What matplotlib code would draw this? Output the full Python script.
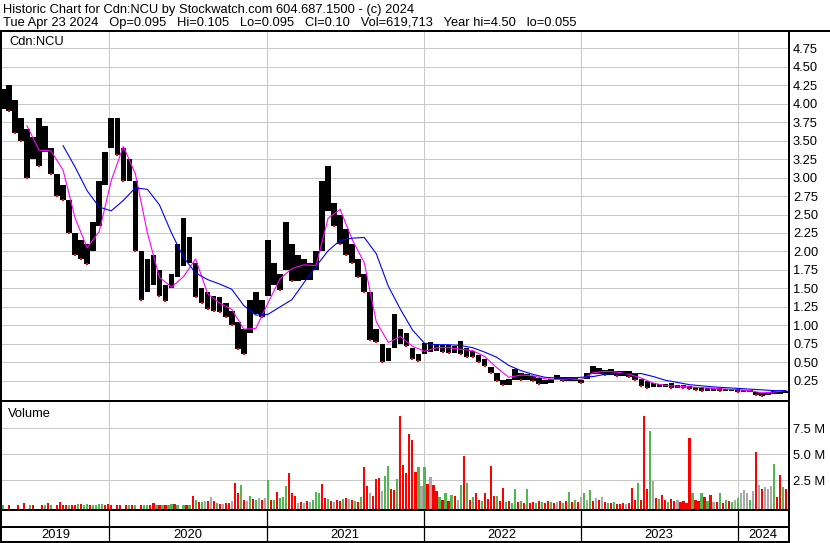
import numpy as np
import pandas as pd
import matplotlib
matplotlib.use("Agg")
import matplotlib.pyplot as plt
from matplotlib.lines import Line2D

plt.rcParams['font.family'] = ['Liberation Sans', 'DejaVu Sans']

# price range per two-week block, first block starts 2019-04-29
bar_start = "2019-04-29"
price_high = [4.20, 4.25, 4.05, 3.80, 3.65, 3.55, 3.80, 3.70, 3.40, 3.05,
              2.90, 2.70, 2.25, 2.15, 2.10, 2.40, 2.95, 3.35, 3.80, 3.80,
              3.40, 3.25, 2.95, 2.00, 1.90, 1.95, 1.75, 1.55, 1.70, 2.10,
              2.45, 2.20, 1.85, 1.50, 1.45, 1.40, 1.38, 1.30, 1.20, 1.05,
              0.95, 1.35, 1.45, 1.35, 2.15, 1.85, 1.70, 2.40, 2.10, 1.95,
              1.90, 1.85, 2.00, 2.95, 3.15, 2.65, 2.50, 2.30, 2.10, 1.90,
              1.70, 1.45, 0.95, 0.75, 0.70, 1.15, 0.95, 0.90, 0.70, 0.62,
              0.76, 0.78, 0.75, 0.74, 0.74, 0.72, 0.79, 0.70, 0.66, 0.60,
              0.55, 0.44, 0.36, 0.26, 0.28, 0.41, 0.36, 0.35, 0.32, 0.29,
              0.27, 0.28, 0.33, 0.31, 0.30, 0.31, 0.27, 0.36, 0.45, 0.42,
              0.40, 0.41, 0.39, 0.38, 0.38, 0.34, 0.28, 0.25, 0.22, 0.21,
              0.21, 0.22, 0.20, 0.19, 0.18, 0.17, 0.17, 0.16, 0.16, 0.15,
              0.14, 0.14, 0.14, 0.13, 0.13, 0.10, 0.09, 0.10, 0.12, 0.12,
              0.12]
price_low = [3.92, 3.90, 3.60, 3.50, 3.00, 3.25, 3.15, 3.35, 3.05, 2.75,
             2.70, 2.25, 1.95, 1.90, 1.83, 2.00, 2.35, 2.90, 3.40, 3.30,
             2.95, 2.95, 2.00, 1.35, 1.45, 1.55, 1.40, 1.33, 1.50, 1.65,
             1.80, 1.85, 1.38, 1.30, 1.22, 1.20, 1.18, 1.12, 1.00, 0.68,
             0.62, 0.90, 1.15, 1.12, 1.40, 1.55, 1.48, 1.75, 1.60, 1.60,
             1.62, 1.62, 1.75, 2.00, 2.55, 2.35, 2.10, 1.95, 1.85, 1.65,
             1.45, 0.80, 0.78, 0.50, 0.52, 0.70, 0.75, 0.72, 0.55, 0.52,
             0.62, 0.64, 0.65, 0.64, 0.63, 0.63, 0.62, 0.58, 0.57, 0.50,
             0.45, 0.36, 0.25, 0.20, 0.20, 0.27, 0.26, 0.26, 0.25, 0.21,
             0.21, 0.22, 0.26, 0.25, 0.25, 0.25, 0.22, 0.28, 0.34, 0.34,
             0.33, 0.33, 0.32, 0.32, 0.31, 0.27, 0.18, 0.16, 0.17, 0.17,
             0.17, 0.16, 0.16, 0.15, 0.14, 0.13, 0.12, 0.12, 0.12, 0.11,
             0.11, 0.11, 0.10, 0.10, 0.10, 0.06, 0.05, 0.055, 0.08, 0.08,
             0.09]

# moving averages, one value every 4 weeks
ma_short = [3.70, 3.37, 3.36, 3.10, 2.45, 2.05, 2.27, 2.96, 3.42, 3.05,
            2.25, 1.65, 1.52, 1.66, 1.90, 1.43, 1.30, 1.22, 0.95, 0.96,
            1.30, 1.63, 1.77, 1.82, 1.81, 2.45, 2.57, 2.16, 1.85, 1.05,
            0.77, 0.85, 0.72, 0.65, 0.70, 0.70, 0.68, 0.66, 0.58, 0.43,
            0.30, 0.33, 0.32, 0.28, 0.27, 0.28, 0.27, 0.36, 0.38, 0.37,
            0.34, 0.29, 0.22, 0.19, 0.18, 0.17, 0.16, 0.15, 0.14, 0.13,
            0.12, 0.09, 0.10, 0.12]
ma_long = [3.43, 3.14, 2.82, 2.60, 2.55, 2.69, 2.86, 2.84, 2.63, 2.25,
           1.92, 1.71, 1.62, 1.56, 1.49, 1.27, 1.14, 1.15, 1.25, 1.35,
           1.58, 1.80, 2.01, 2.15, 2.18, 2.19, 1.97, 1.53, 1.22, 0.94,
           0.76, 0.74, 0.74, 0.73, 0.70, 0.64, 0.57, 0.46, 0.39, 0.34,
           0.30, 0.29, 0.29, 0.30, 0.31, 0.34, 0.35, 0.35, 0.35, 0.31,
           0.26, 0.23, 0.20, 0.185, 0.17, 0.16, 0.15, 0.14, 0.13, 0.12,
           0.12]

# weekly volume (millions) and direction: r = down, g = up, n = unchanged
vol_start = "2019-04-29"
vol_2019 = [0.05, 0.0, 0.05, 0.0, 0.0, 0.10, 0.0, 0.30, 0.0, 0.05, 0.05, 0.0, 0.0, 0.08, 0.05, 0.30, 0.05, 0.0,
            0.10, 0.40, 0.05, 0.08, 0.05, 0.10, 0.10, 0.15, 0.20, 0.10, 0.15, 0.10, 0.12, 0.10, 0.15, 0.20, 0.10, 0.15]
dir_2019 = "ggrggrgrggrggrgrggrrrrgrrgrggrggggrr"
vol_2020 = [0.05, 0.0, 0.05, 0.08, 0.0, 0.05, 0.10, 0.05, 0.08, 0.0, 0.05, 0.10, 0.05, 0.12, 0.25, 0.10, 0.08, 0.12,
            0.05, 0.10, 0.15, 0.20, 0.05, 0.0, 0.05, 0.10, 0.12,
            1.0, 0.6, 0.4, 0.4, 0.5, 0.5, 0.9, 0.5, 0.3, 0.2, 0.2, 0.3, 0.3, 0.5, 2.2, 1.2, 2.0, 0.6, 0.5, 1.0,
            0.7, 0.6, 0.8, 0.6, 0.8]
dir_2020 = "rgrrgrgrgrrggrrgrgrggrgrgrg" + "rgrgnrnrgrnrrnrrgrngrgnrn"
vol_2021 = [2.5, 0.6, 0.6, 1.3, 0.8, 0.9, 1.9, 3.2, 1.2, 1.0, 0.3, 0.4, 0.3, 0.5, 0.4, 0.6, 1.3, 1.2, 2.1, 0.8,
            0.7, 0.5, 0.4, 0.6, 0.5, 0.7, 0.8, 0.7, 0.6, 0.5, 0.4, 0.9, 3.8, 1.9, 1.2, 1.0, 2.6, 2.7, 1.4, 2.9,
            3.9, 1.6, 1.5, 2.6, 8.7, 4.0, 3.2, 7.0, 6.4, 3.3, 3.8, 1.9]
dir_2021 = "grgrgggrrrnrnrngggrrgrnrrgrnrgrgrrnrrrnggrrgrrrrrrgn"
vol_2022 = [3.8, 2.1, 2.8, 2.0, 1.4, 0.9, 0.6, 1.2, 0.5, 1.1, 1.0, 0.6, 2.0, 4.8, 2.2, 0.6, 0.9, 1.2, 0.6, 0.5,
            1.2, 0.7, 3.9, 1.0, 1.0, 0.5, 1.7, 0.4, 0.5, 0.3, 1.6, 0.4, 0.5, 0.3, 1.6, 0.3, 0.4, 0.3, 0.5, 0.4,
            0.3, 0.5, 0.4, 0.3, 0.4, 0.5, 0.3, 0.5, 1.3, 0.4, 0.6, 0.4]
dir_2022 = "grnrrgrgrgrngrgrgrrgrrrrgrrgrggrgrgrrgrgrrgrnrgrgrgr"
vol_2023 = [0.9, 1.2, 0.6, 1.5, 0.5, 0.8, 0.6, 0.9, 0.4, 0.3, 0.3, 0.4, 0.2, 0.2, 0.3, 0.2, 0.3, 1.7, 0.6, 2.2,
            0.6, 8.7, 1.6, 7.2, 2.4, 0.8, 0.7, 1.1, 0.6, 0.4, 0.7, 0.5, 0.6, 0.4, 0.5, 0.3, 6.6, 1.2, 0.6, 0.5,
            1.2, 0.9, 0.5, 1.1, 0.4, 0.4, 1.2, 0.3, 0.6, 0.5, 0.4, 0.6]
dir_2023 = "ngngrnrnrgrgrrrnrrrgrrrgnrgrrgrrnrrrrgrrgrgrnrgrgrgn"
vol_2024 = [0.8, 1.2, 1.5, 1.2, 0.6, 1.4, 5.2, 2.0, 1.6, 1.8, 1.6, 1.9, 4.1, 0.9, 3.0, 1.8, 1.6]
dir_2024 = "gnnngnrnrnnngrrgr"

years = [2019, 2020, 2021, 2022, 2023, 2024]
price_ticks = [0.25, 0.50, 0.75, 1.00, 1.25, 1.50, 1.75, 2.00, 2.25, 2.50,
               2.75, 3.00, 3.25, 3.50, 3.75, 4.00, 4.25, 4.50, 4.75]
volume_ticks = [2.5, 5.0, 7.5]

title_1 = "Historic Chart for Cdn:NCU by Stockwatch.com 604.687.1500 - (c) 2024"
title_2 = "Tue Apr 23 2024   Op=0.095   Hi=0.105   Lo=0.095   Cl=0.10   Vol=619,713   Year hi=4.50   lo=0.055"

W, H = 830, 543
GRID = "#c8c8c8"
FS = 9.25
vol_colors = {"r": "#ff0000", "g": "#4fb84f", "n": "#a9a9a9"}


def main():
    fig = plt.figure(figsize=(W / 100, H / 100), dpi=100)

    def box(l, t, r, b):
        ax = fig.add_axes([l / W, 1 - b / H, (r - l) / W, (b - t) / H])
        for s in ax.spines.values():
            s.set_visible(False)
        return ax

    def px_line(x0, y0, x1, y1, w=2):
        fig.add_artist(Line2D([x0 / W, x1 / W], [1 - y0 / H, 1 - y1 / H],
                              transform=fig.transFigure, color="black",
                              lw=w * 0.72, solid_capstyle="butt"))

    x_lo = pd.Timestamp("2019-04-27")
    x_hi = pd.Timestamp("2024-04-27")
    year_lines = [pd.Timestamp(f"{y}-01-01") for y in years[1:]]

    bar_dates = pd.date_range(bar_start, periods=len(price_high), freq="14D")
    hi = np.array(price_high)
    lo = np.array(price_low)

    # price panel
    ax = box(2, 31, 788, 400)
    ax.set_xlim(x_lo, x_hi)
    ax.set_ylim(-0.007, 4.98)
    for t in price_ticks:
        ax.axhline(t, color=GRID, lw=0.72, zorder=0)
    for d in year_lines:
        ax.axvline(d, color=GRID, lw=0.72, zorder=0)
    ax.bar(bar_dates, hi - lo, bottom=lo, width=13, color="black", zorder=2)
    down = np.r_[False, lo[1:] < lo[:-1]]
    ax.scatter(bar_dates[down], lo[down], s=3, marker="s", color="red", lw=0, zorder=3)
    ax.plot(bar_dates[4::2], ma_short, color="#ff00ff", lw=0.8, zorder=4)
    ax.plot(bar_dates[10::2], ma_long, color="#0000ff", lw=0.8, zorder=4)
    ax.set_yticks(price_ticks)
    ax.set_yticklabels([f"{t:.2f}" for t in price_ticks])
    ax.yaxis.tick_right()
    ax.tick_params(axis="y", length=0, pad=3.6, labelsize=FS)
    ax.set_xticks([])
    ax.text(7 / 786, 1 - 11 / 369, "Cdn:NCU", transform=ax.transAxes, fontsize=FS, va="center")

    # volume panel
    volume = vol_2019 + vol_2020 + vol_2021 + vol_2022 + vol_2023 + vol_2024
    direction = dir_2019 + dir_2020 + dir_2021 + dir_2022 + dir_2023 + dir_2024
    vol_dates = pd.date_range(vol_start, periods=len(volume), freq="7D")
    vax = box(2, 402, 788, 509)
    vax.set_xlim(x_lo, x_hi)
    vol_floor = -0.3
    vax.set_ylim(vol_floor, 10.05)
    for t in volume_ticks:
        vax.axhline(t, color=GRID, lw=0.72, zorder=0)
    for d in year_lines:
        vax.axvline(d, color=GRID, lw=0.72, zorder=0)
    v = np.array(volume)
    keep = v > 0
    vax.bar(vol_dates[keep], v[keep] - vol_floor, bottom=vol_floor, width=5,
            color=[vol_colors[c] for c, k in zip(direction, keep) if k],
            antialiased=False, zorder=2)
    vax.set_yticks(volume_ticks)
    vax.set_yticklabels([f"{t:.1f} M" for t in volume_ticks])
    vax.yaxis.tick_right()
    vax.tick_params(axis="y", length=0, pad=3.6, labelsize=FS)
    vax.set_xticks([])
    vax.text(6 / 786, 1 - 12 / 107, "Volume", transform=vax.transAxes, fontsize=FS, va="center")

    # year strip
    yax = box(2, 511, 788, 542)
    yax.set_xlim(x_lo, x_hi)
    yax.set_ylim(0, 1)
    yax.set_xticks([])
    yax.set_yticks([])
    for d in year_lines:
        yax.axvline(d, color="black", lw=0.9)
    edges = [x_lo] + year_lines + [x_hi]
    for y, a, b in zip(years, edges[:-1], edges[1:]):
        yax.text(a + (b - a) / 2, 0.24, str(y), ha="center", va="center", fontsize=FS)

    # frame
    px_line(0, 30.5, 830, 30.5)
    px_line(1, 30, 1, 543)
    px_line(789, 30, 789, 543)
    px_line(0, 400.5, 789, 400.5)
    px_line(0, 510, 789, 510)
    px_line(0, 527, 789, 527)
    px_line(0, 542, 789, 542)

    fig.text(3 / W, 1 - 10 / H, title_1, fontsize=FS, va="center")
    fig.text(3 / W, 1 - 23 / H, title_2, fontsize=FS, va="center")

    fig.savefig("out.png", dpi=100)


if __name__ == "__main__":
    main()
